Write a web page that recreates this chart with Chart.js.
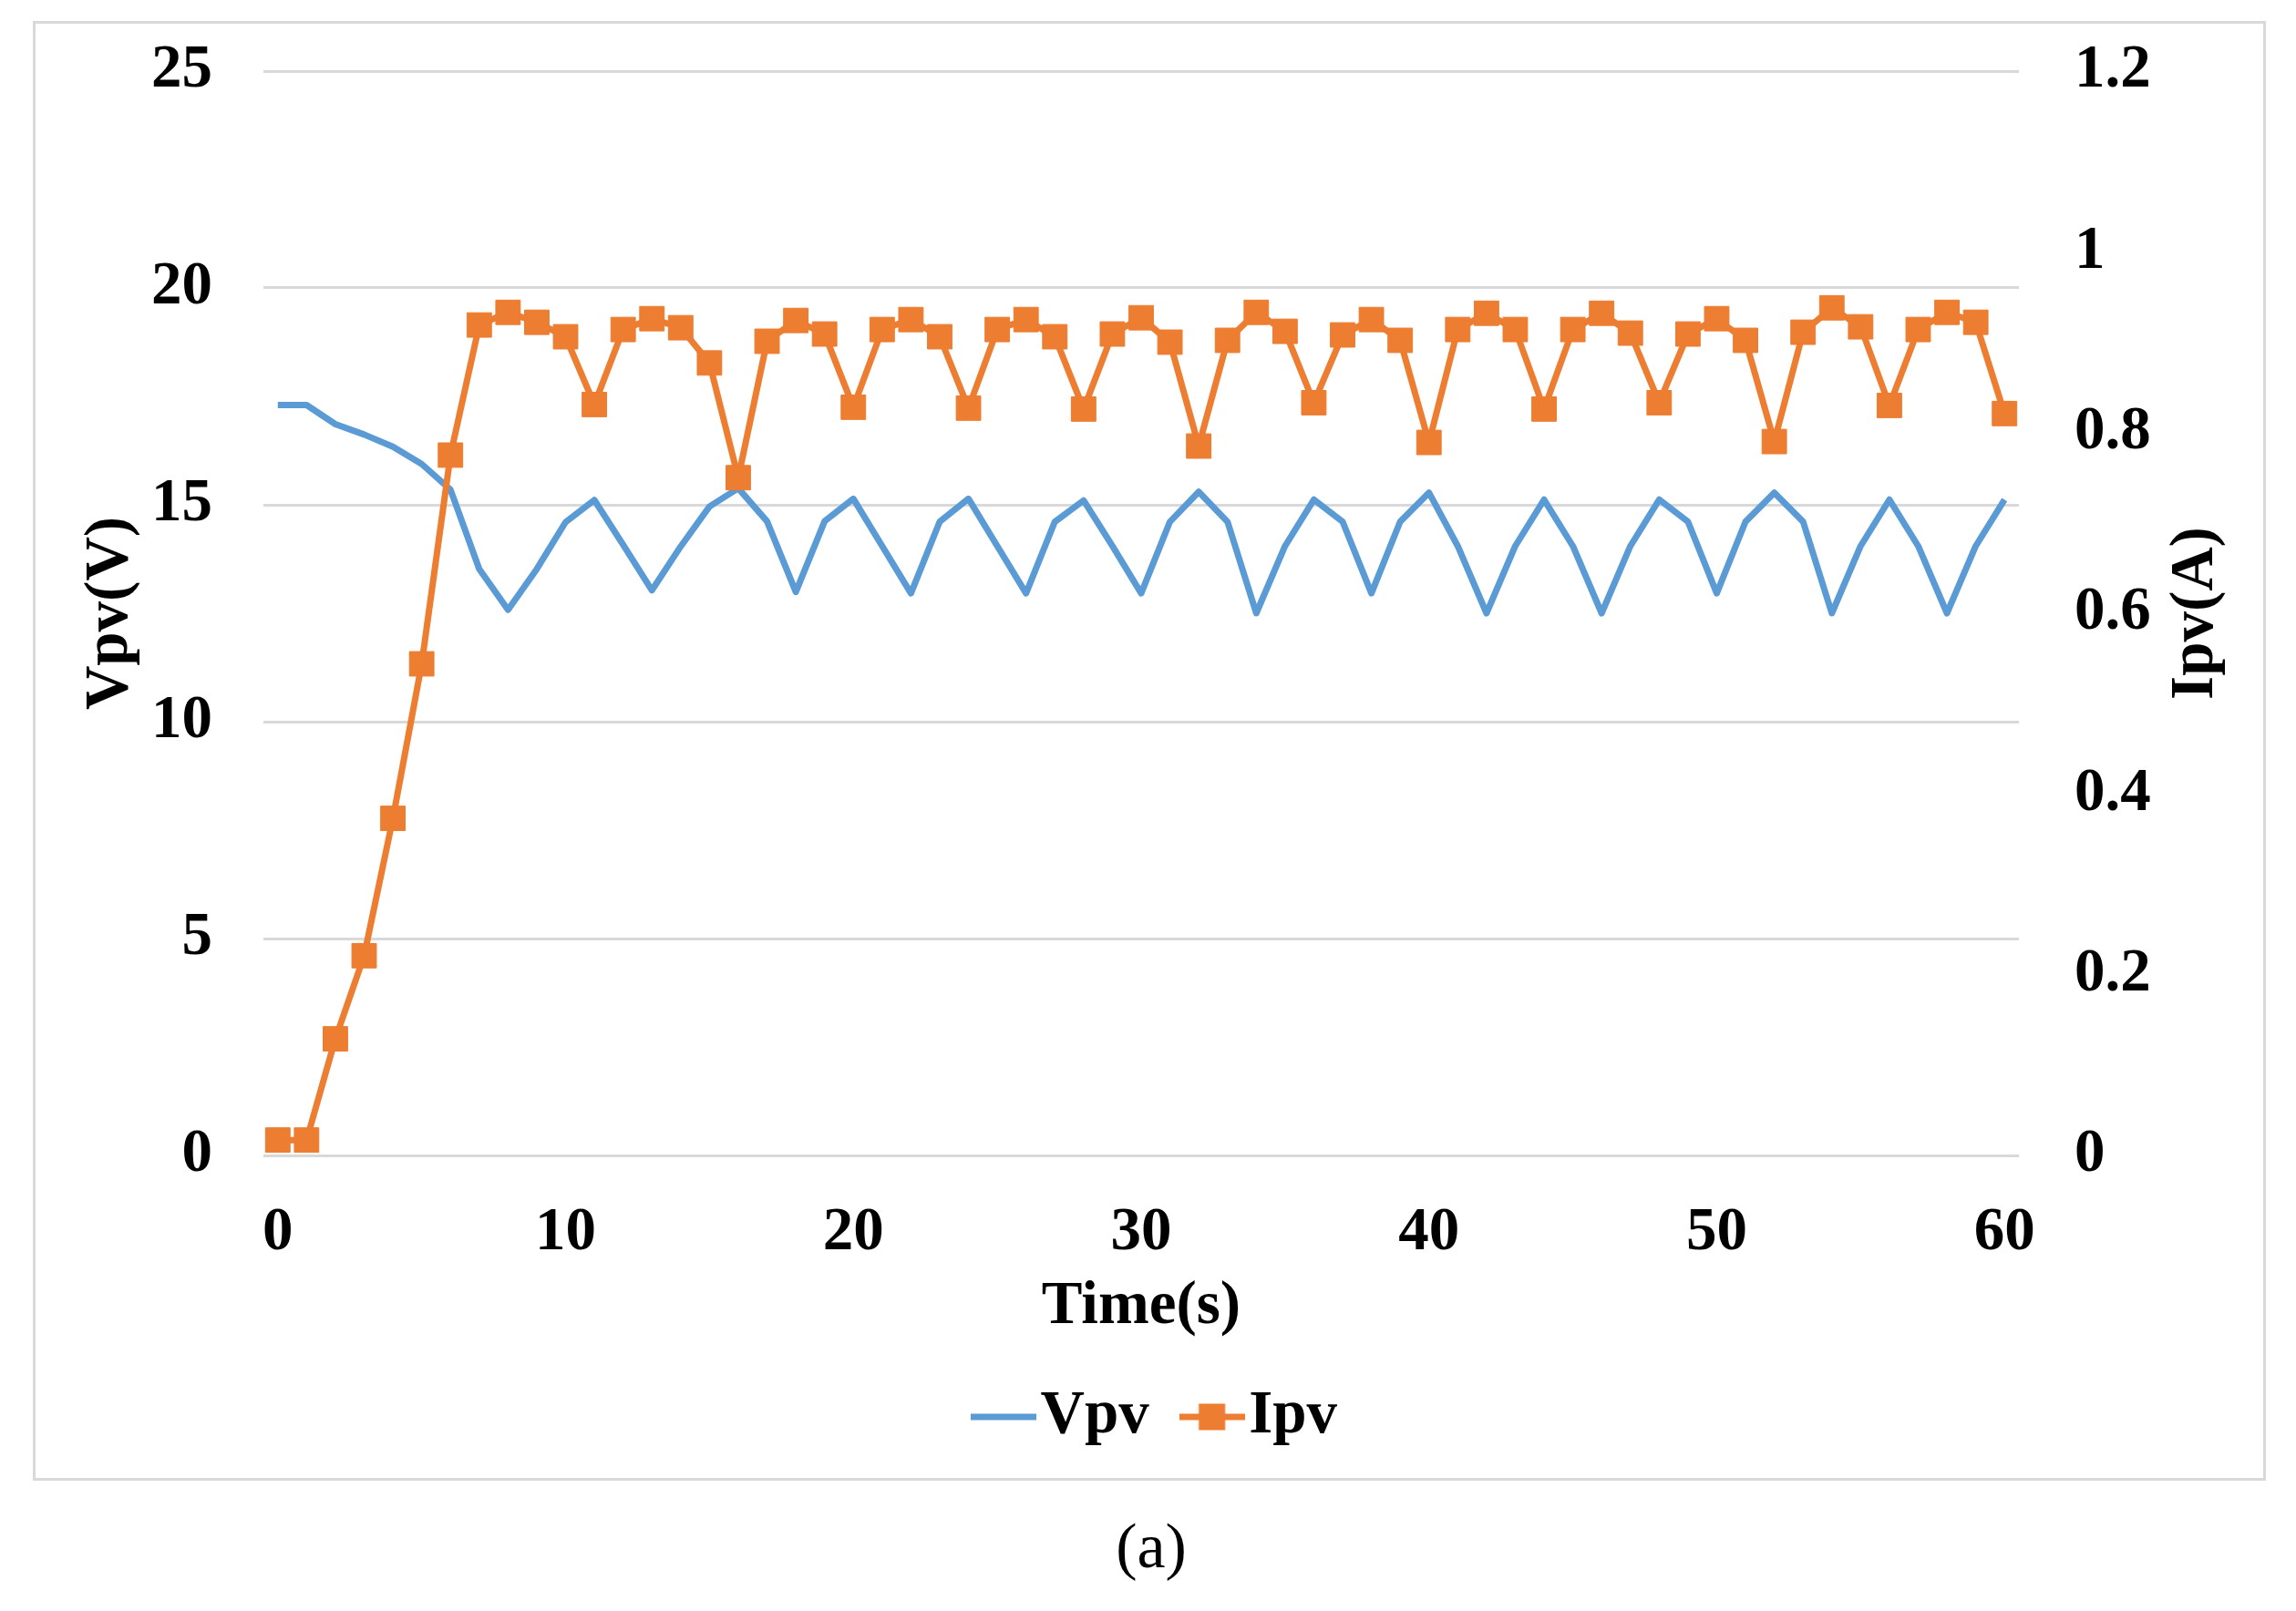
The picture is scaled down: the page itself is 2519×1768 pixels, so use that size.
<!DOCTYPE html>
<html>
<head>
<meta charset="utf-8">
<script src="https://cdn.jsdelivr.net/npm/chart.js@4"></script>
<style>
  html, body { margin: 0; padding: 0; background: #fff; }
  #wrap { position: absolute; left: 0; top: 0; width: 2519px; height: 1768px; }
  #frame { position: absolute; left: 36px; top: 23px; width: 2450px; height: 1602px;
           border: 3px solid #d9d9d9; box-sizing: border-box; pointer-events: none; }
  #caption { position: absolute; left: 1163px; top: 1662px; width: 200px; text-align: center;
             font: 70px/70px "Liberation Serif", serif; color: #000; }
</style>
</head>
<body>
<div id="wrap"><canvas id="chart"></canvas></div>
<div id="frame"></div>
<div id="caption">(a)</div>
<script>
const timeLabels = Array.from({ length: 61 }, (_, i) => String(i));

const vpv = [
  17.30, 17.30, 16.86, 16.62, 16.34, 15.94, 15.35, 13.52, 12.58, 13.52,
  14.60, 15.11, 14.08, 13.03, 14.04, 14.96, 15.38, 14.62, 12.99, 14.62,
  15.14, 14.05, 12.96, 14.61, 15.14, 14.05, 12.96, 14.61, 15.10, 14.05,
  12.96, 14.61, 15.30, 14.61, 12.50, 14.05, 15.12, 14.61, 12.96, 14.61,
  15.28, 14.05, 12.50, 14.05, 15.12, 14.05, 12.50, 14.05, 15.12, 14.61,
  12.96, 14.61, 15.28, 14.61, 12.50, 14.05, 15.12, 14.05, 12.50, 14.05,
  15.12,
];

const ipv = [
  0.017, 0.017, 0.129, 0.221, 0.373, 0.544, 0.775, 0.919, 0.933, 0.922,
  0.906, 0.831, 0.914, 0.926, 0.916, 0.877, 0.750, 0.901, 0.924, 0.909,
  0.828, 0.914, 0.925, 0.906, 0.827, 0.914, 0.925, 0.906, 0.826, 0.909,
  0.927, 0.900, 0.785, 0.902, 0.933, 0.912, 0.833, 0.908, 0.925, 0.902,
  0.789, 0.914, 0.932, 0.914, 0.826, 0.914, 0.932, 0.910, 0.833, 0.909,
  0.926, 0.902, 0.790, 0.911, 0.938, 0.917, 0.830, 0.914, 0.933, 0.922,
  0.821,
];

const BLUE = '#5B9BD5';
const ORANGE = '#ED7D31';
const FONT = 'Liberation Serif';
const SIZE = 67;

// excel-like legend keys: plain line, and line with a square marker
const makeKey = (color, square) => {
  const c = document.createElement('canvas');
  c.width = 72;
  c.height = 30;
  const g = c.getContext('2d');
  g.fillStyle = color;
  g.fillRect(0, 11.5, 72, 7);
  if (square) g.fillRect(21.5, 0.5, 29, 29);
  return c;
};
const legendKeys = [makeKey(BLUE, false), makeKey(ORANGE, true)];

// chart.js always turns a right-hand axis title clockwise; this one reads bottom-up
const rightTitlePlugin = {
  id: 'rightTitle',
  afterDraw: chart => {
    const axis = chart.scales.y1;
    const { ctx, chartArea } = chart;
    ctx.save();
    ctx.translate(axis.right - 80, (chartArea.top + chartArea.bottom) / 2);
    ctx.rotate(-Math.PI / 2);
    ctx.font = `bold ${SIZE}px "${FONT}"`;
    ctx.fillStyle = '#000';
    ctx.textAlign = 'center';
    ctx.textBaseline = 'middle';
    ctx.fillText(axis.options.title.text, 0, 0);
    ctx.restore();
  },
};

const font = { family: FONT, size: SIZE, weight: 'bold' };

new Chart(document.getElementById('chart'), {
  type: 'line',
  data: {
    labels: timeLabels,
    datasets: [
      {
        label: 'Vpv', data: vpv, yAxisID: 'y', order: 1,
        borderColor: BLUE, backgroundColor: BLUE, borderWidth: 7,
        pointRadius: 0, tension: 0, borderJoinStyle: 'round',
      },
      {
        label: 'Ipv', data: ipv, yAxisID: 'y1', order: 0,
        borderColor: ORANGE, backgroundColor: ORANGE, borderWidth: 7,
        pointStyle: 'rect', pointRadius: 19, pointBorderWidth: 1,
        pointBackgroundColor: ORANGE, pointBorderColor: ORANGE,
        tension: 0, borderJoinStyle: 'round',
      },
    ],
  },
  options: {
    responsive: true,
    maintainAspectRatio: false,
    animation: false,
    events: [],
    layout: { padding: { left: 71, right: 29, top: 78, bottom: 169.5 } },
    scales: {
      x: {
        type: 'category',
        offset: true,
        grid: { display: false },
        border: { display: false },
        ticks: {
          autoSkip: false, maxRotation: 0, padding: 37, color: '#000', font,
          callback: (v, i) => (i % 10 === 0 ? timeLabels[i] : ''),
        },
        title: {
          display: true, text: 'Time(s)', color: '#000',
          font: { ...font, lineHeight: 1 }, padding: { top: 0, bottom: -9 },
        },
        afterFit: axis => { axis.height = 191.5; },
      },
      y: {
        position: 'left',
        min: 0, max: 25,
        grid: { color: '#d9d9d9', lineWidth: 3, drawTicks: true, tickLength: 56, tickColor: 'rgba(0,0,0,0)' },
        border: { display: false },
        ticks: { stepSize: 5, padding: 0, color: '#000', font },
        title: {
          display: true, text: 'Vpv(V)', color: '#000', font,
          padding: { top: 10, bottom: 0 },
        },
        afterFit: axis => { axis.width = 218; },
      },
      y1: {
        position: 'right',
        min: 0, max: 1.2,
        grid: { drawOnChartArea: false, drawTicks: true, tickLength: 61, tickColor: 'rgba(0,0,0,0)' },
        border: { display: false },
        ticks: {
          stepSize: 0.2, padding: 0, color: '#000', font,
          callback: v => String(+v.toFixed(1)),
        },
        title: { display: false, text: 'Ipv(A)' },
        afterFit: axis => { axis.width = 275; },
      },
    },
    plugins: {
      tooltip: { enabled: false },
      legend: {
        position: 'bottom',
        labels: {
          color: '#000',
          font,
          padding: 62,
          usePointStyle: true,
          pointStyleWidth: 14,
          sort: (a, b) => a.datasetIndex - b.datasetIndex,
          generateLabels: chart =>
            Chart.defaults.plugins.legend.labels.generateLabels(chart)
              .map(item => ({ ...item, pointStyle: legendKeys[item.datasetIndex] })),
        },
      },
    },
  },
  plugins: [rightTitlePlugin],
});
</script>
</body>
</html>
